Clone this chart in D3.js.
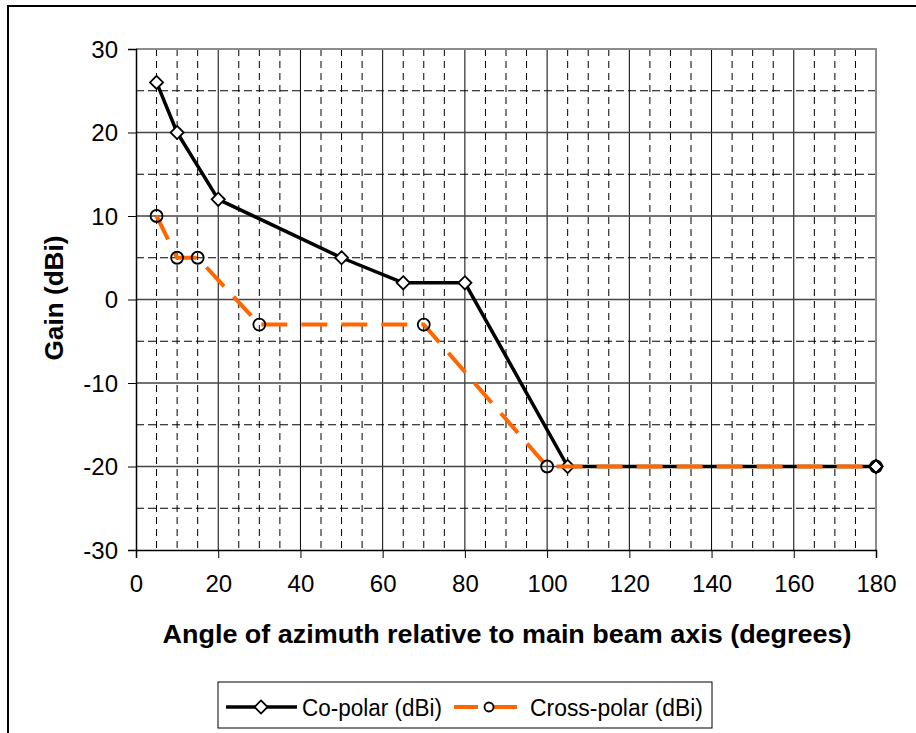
<!DOCTYPE html>
<html><head><meta charset="utf-8">
<script src="https://cdn.jsdelivr.net/npm/d3@7"></script>
<style>body{margin:0;background:#fff}svg{display:block}text{font-family:"Liberation Sans",Arial,sans-serif}</style>
</head><body>
<svg id="c" width="916" height="733"></svg>
<script>
const coAngles = [5, 10, 20, 50, 65, 80, 105, 180];
const coGain = [26, 20, 12, 5, 2, 2, -20, -20];
const crossAngles = [5, 10, 15, 30, 70, 100, 180];
const crossGain = [10, 5, 5, -3, -3, -20, -20];
const xTicks = [0, 20, 40, 60, 80, 100, 120, 140, 160, 180];
const yTicks = [-30, -20, -10, 0, 10, 20, 30];
const seriesNames = ["Co-polar (dBi)", "Cross-polar (dBi)"];
const xTitle = "Angle of azimuth relative to main beam axis (degrees)";
const yTitle = "Gain (dBi)";

const svg = d3.select("#c");
const L = 136, R = 876, T = 49, B = 550;
const x = d3.scaleLinear().domain([0, 180]).range([L, R]);
const y = d3.scaleLinear().domain([-30, 30]).range([B, T]);

// outer border
svg.append("rect").attr("x", 8).attr("y", 6).attr("width", 1000).attr("height", 1000)
  .attr("fill", "#fff").attr("stroke", "#000").attr("stroke-width", 2);

const g = svg.append("g");
// minor grid
const minorX = d3.range(5, 180, 5).filter(v => v % 20 !== 0);
const minorY = d3.range(-25, 30, 5).filter(v => v % 10 !== 0);
g.selectAll(".mx").data(minorX).join("line")
  .attr("x1", d => x(d)).attr("x2", d => x(d)).attr("y1", T).attr("y2", B)
  .attr("stroke", "#000").attr("stroke-width", 1).attr("stroke-dasharray", "7,5");
g.selectAll(".my").data(minorY).join("line")
  .attr("x1", L).attr("x2", R).attr("y1", d => y(d)).attr("y2", d => y(d))
  .attr("stroke", "#000").attr("stroke-width", 1).attr("stroke-dasharray", "8,4");
// major grid
g.selectAll(".gx").data(xTicks.slice(1, -1)).join("line")
  .attr("x1", d => x(d)).attr("x2", d => x(d)).attr("y1", T).attr("y2", B)
  .attr("stroke", "#000").attr("stroke-width", 1);
g.selectAll(".gy").data(yTicks.slice(1, -1)).join("line")
  .attr("x1", L).attr("x2", R).attr("y1", d => y(d)).attr("y2", d => y(d))
  .attr("stroke", "#444").attr("stroke-width", 1.3);
// plot border
g.append("path").attr("d", `M${L},${T}H${R}V${B}`).attr("fill", "none")
  .attr("stroke", "#8c8c8c").attr("stroke-width", 2);

// axes
const fmt = d => String(d);
const xAxis = d3.axisBottom(x).tickValues(xTicks).tickSize(8).tickPadding(17).tickFormat(fmt);
const yAxis = d3.axisLeft(y).tickValues(yTicks).tickSize(8).tickPadding(10).tickFormat(fmt);
const gx = svg.append("g").attr("transform", `translate(0,${B})`).call(xAxis);
const gy = svg.append("g").attr("transform", `translate(${L},0)`).call(yAxis);
[gx, gy].forEach(a => {
  a.select(".domain").attr("stroke", "#000").attr("stroke-width", 1.5);
  a.selectAll(".tick line").attr("stroke", "#000");
  a.selectAll("text").attr("font-size", 24).attr("fill", "#000")
   .attr("font-family", "'Liberation Sans', Arial, sans-serif");
});
gy.selectAll("text").attr("dy", "0.35em");

// titles
svg.append("text").attr("x", 507).attr("y", 643).attr("text-anchor", "middle")
  .attr("font-size", 26).attr("font-weight", "bold").attr("textLength", 689)
  .attr("lengthAdjust", "spacingAndGlyphs").text(xTitle);
svg.append("text").attr("transform", "translate(63,298) rotate(-90)").attr("text-anchor", "middle")
  .attr("font-size", 26).attr("font-weight", "bold").attr("textLength", 125)
  .attr("lengthAdjust", "spacingAndGlyphs").text(yTitle);

// series
const coData = coAngles.map((a, i) => [a, coGain[i]]);
const crData = crossAngles.map((a, i) => [a, crossGain[i]]);
const line = d3.line().x(d => x(d[0])).y(d => y(d[1]));
svg.append("path").datum(coData).attr("d", line).attr("fill", "none")
  .attr("stroke", "#000").attr("stroke-width", 3.5).attr("stroke-linejoin", "round");
const diamond = d3.symbol().type(d3.symbolDiamond2).size(110);
svg.selectAll(".co").data(coData).join("path")
  .attr("transform", d => `translate(${x(d[0])},${y(d[1])})`).attr("d", diamond)
  .attr("fill", "#fff").attr("stroke", "#000").attr("stroke-width", 1.8);
svg.append("path").datum(crData).attr("d", line).attr("fill", "none")
  .attr("stroke", "#ff6600").attr("stroke-width", 4).attr("stroke-dasharray", "26,14");
svg.selectAll(".cr").data(crData).join("circle")
  .attr("cx", d => x(d[0])).attr("cy", d => y(d[1])).attr("r", 6)
  .attr("fill", "none").attr("stroke", "#000").attr("stroke-width", 1.8);
svg.append("path").attr("transform", `translate(${x(180)},${y(-20)})`).attr("d", diamond)
  .attr("fill", "none").attr("stroke", "#000").attr("stroke-width", 1.8);

// legend
const lg = svg.append("g");
lg.append("rect").attr("x", 218).attr("y", 682).attr("width", 494).attr("height", 46)
  .attr("fill", "#fff").attr("stroke", "#000").attr("stroke-width", 1);
lg.append("line").attr("x1", 226).attr("x2", 297).attr("y1", 707).attr("y2", 707)
  .attr("stroke", "#000").attr("stroke-width", 3.5);
lg.append("path").attr("transform", "translate(261,707)").attr("d", diamond)
  .attr("fill", "#fff").attr("stroke", "#000").attr("stroke-width", 1.8);
lg.append("text").attr("x", 302).attr("y", 716).attr("font-size", 23)
  .attr("textLength", 140).attr("lengthAdjust", "spacingAndGlyphs").text(seriesNames[0]);
lg.append("line").attr("x1", 454).attr("x2", 517).attr("y1", 707).attr("y2", 707)
  .attr("stroke", "#ff6600").attr("stroke-width", 4).attr("stroke-dasharray", "24,15");
lg.append("circle").attr("cx", 489).attr("cy", 707).attr("r", 4.5)
  .attr("fill", "#fff").attr("stroke", "#000").attr("stroke-width", 1.8);
lg.append("text").attr("x", 530).attr("y", 716).attr("font-size", 23)
  .attr("textLength", 173).attr("lengthAdjust", "spacingAndGlyphs").text(seriesNames[1]);
</script>
</body></html>
